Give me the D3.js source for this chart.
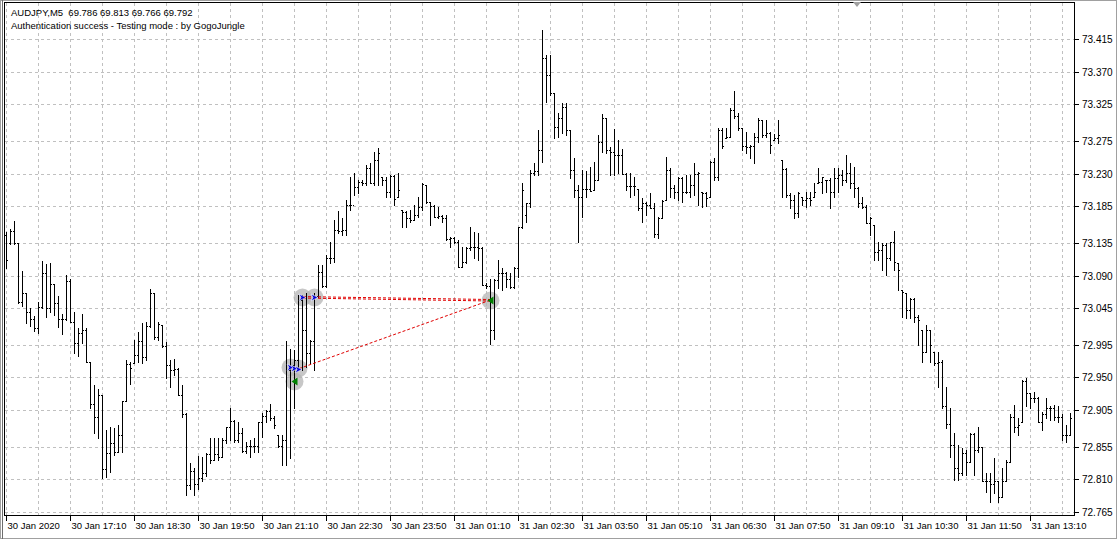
<!DOCTYPE html>
<html><head><meta charset="utf-8">
<script src="https://cdn.jsdelivr.net/npm/d3@7"></script>
<style>html,body{margin:0;padding:0;background:#fff;overflow:hidden}</style>
</head><body>
<svg id="c" width="1117" height="539"></svg>
<script>
const symbolTitle = "AUDJPY,M5  69.786 69.813 69.766 69.792";
const statusLine = "Authentication success - Testing mode : by GogoJungle";
const startTime = "2020-01-30T15:50:00";
const barMinutes = 5;

const opens = [
73.146,73.135,73.151,73.135,73.054,73.066,73.040,73.030,73.018,73.047,73.094,73.046,73.079,73.052,73.030,73.030,73.083,73.026,72.997,73.011,
73.015,72.971,72.914,72.896,72.926,72.824,72.846,72.860,72.848,72.871,72.918,72.969,72.970,72.981,73.000,72.978,73.021,73.066,73.006,73.022,
72.993,72.967,72.960,72.962,72.926,72.900,72.802,72.822,72.804,72.812,72.819,72.845,72.837,72.845,72.841,72.864,72.882,72.890,72.864,72.874,
72.849,72.856,72.856,72.856,72.888,72.897,72.904,72.894,72.871,72.856,72.864,72.960,72.967,72.974,73.057,73.015,72.984,73.000,73.062,73.095,
73.075,73.114,73.114,73.153,73.151,73.153,73.187,73.187,73.212,73.219,73.217,73.238,73.217,73.249,73.226,73.221,73.205,73.227,73.198,73.180,
73.177,73.169,73.166,73.173,73.184,73.214,73.191,73.186,73.171,73.172,73.169,73.140,73.142,73.136,73.102,73.109,73.128,73.129,73.129,73.128,
73.077,73.075,73.015,73.084,73.094,73.094,73.085,73.074,73.100,73.157,73.173,73.190,73.231,73.234,73.263,73.389,73.366,73.341,73.294,73.307,
73.322,73.290,73.235,73.208,73.198,73.209,73.209,73.208,73.221,73.274,73.307,73.263,73.260,73.256,73.256,73.230,73.213,73.213,73.209,73.183,
73.190,73.187,73.183,73.147,73.169,73.194,73.235,73.210,73.205,73.224,73.205,73.205,73.214,73.230,73.205,73.204,73.198,73.246,73.226,73.290,
73.279,73.280,73.318,73.309,73.293,73.268,73.267,73.268,73.280,73.304,73.283,73.286,73.276,73.279,73.249,73.236,73.201,73.194,73.176,73.198,
73.194,73.197,73.198,73.217,73.219,73.221,73.221,73.205,73.224,73.228,73.221,73.231,73.217,73.210,73.190,73.184,73.162,73.159,73.122,73.125,
73.132,73.114,73.136,73.107,73.070,73.066,73.043,73.058,73.033,73.015,72.985,73.015,72.985,72.970,72.971,72.910,72.886,72.857,72.826,72.819,
72.846,72.834,72.872,72.850,72.855,72.807,72.807,72.804,72.807,72.785,72.807,72.834,72.896,72.882,72.888,72.945,72.929,72.922,72.922,72.889,
72.899,72.908,72.908,72.896,72.896,72.871,72.871];

const highs = [
73.150,73.154,73.165,73.135,73.096,73.066,73.046,73.035,73.054,73.110,73.106,73.107,73.079,73.062,73.037,73.091,73.085,73.040,73.018,73.037,
73.018,72.971,72.940,72.934,72.926,72.878,72.882,72.881,72.885,72.918,72.974,72.971,73.002,73.013,73.025,73.026,73.072,73.066,73.026,73.022,
72.999,72.974,72.975,72.963,72.940,72.901,72.833,72.826,72.842,72.841,72.846,72.867,72.867,72.867,72.867,72.882,72.908,72.892,72.888,72.881,
72.861,72.864,72.867,72.889,72.901,72.905,72.914,72.897,72.871,72.871,73.000,72.989,72.988,73.063,73.063,73.066,73.002,73.066,73.105,73.105,
73.118,73.136,73.166,73.179,73.169,73.194,73.226,73.231,73.221,73.221,73.242,73.245,73.260,73.265,73.226,73.226,73.228,73.228,73.231,73.180,
73.179,73.180,73.187,73.198,73.217,73.214,73.191,73.187,73.184,73.173,73.173,73.143,73.143,73.139,73.129,73.129,73.157,73.150,73.149,73.129,
73.080,73.085,73.085,73.111,73.100,73.095,73.094,73.102,73.157,73.217,73.190,73.235,73.245,73.290,73.427,73.393,73.393,73.341,73.313,73.327,
73.327,73.290,73.252,73.214,73.235,73.234,73.239,73.246,73.283,73.312,73.307,73.267,73.291,73.276,73.264,73.231,73.231,73.226,73.209,73.197,
73.191,73.204,73.190,73.171,73.194,73.253,73.238,73.214,73.226,73.226,73.228,73.228,73.245,73.232,73.205,73.205,73.247,73.252,73.293,73.293,
73.293,73.320,73.344,73.313,73.293,73.287,73.269,73.286,73.307,73.304,73.304,73.287,73.285,73.304,73.249,73.238,73.204,73.201,73.205,73.198,
73.205,73.205,73.217,73.238,73.226,73.221,73.224,73.238,73.238,73.235,73.256,73.245,73.239,73.212,73.198,73.187,73.171,73.159,73.136,73.135,
73.135,73.136,73.151,73.107,73.070,73.066,73.059,73.059,73.036,73.015,73.022,73.015,72.985,72.985,72.974,72.937,72.908,72.874,72.857,72.853,
72.850,72.874,72.874,72.882,72.855,72.819,72.819,72.839,72.807,72.826,72.837,72.899,72.912,72.894,72.947,72.949,72.929,72.930,72.923,72.903,
72.922,72.910,72.912,72.910,72.899,72.885,72.901];

const lows = [
73.100,73.133,73.133,73.052,73.048,73.025,73.021,73.014,73.011,73.046,73.033,73.040,73.036,73.019,73.010,73.029,73.026,72.984,72.980,72.997,
72.971,72.908,72.874,72.867,72.812,72.813,72.820,72.844,72.848,72.848,72.918,72.941,72.970,72.971,72.970,72.974,73.019,73.003,73.002,72.992,
72.949,72.937,72.953,72.926,72.896,72.789,72.796,72.789,72.796,72.807,72.815,72.833,72.837,72.837,72.841,72.860,72.864,72.861,72.861,72.848,
72.846,72.841,72.848,72.848,72.868,72.889,72.892,72.881,72.855,72.830,72.829,72.839,72.908,72.960,72.960,72.964,72.970,72.960,73.061,73.074,
73.074,73.107,73.109,73.149,73.146,73.146,73.180,73.201,73.204,73.214,73.214,73.217,73.214,73.214,73.214,73.198,73.198,73.187,73.198,73.157,
73.157,73.164,73.166,73.171,73.180,73.190,73.159,73.171,73.169,73.164,73.139,73.129,73.135,73.102,73.102,73.107,73.125,73.114,73.111,73.077,
73.073,72.996,73.003,73.073,73.070,73.074,73.073,73.073,73.088,73.155,73.164,73.184,73.228,73.228,73.246,73.329,73.338,73.279,73.280,73.286,
73.283,73.224,73.198,73.136,73.171,73.198,73.206,73.208,73.221,73.260,73.258,73.228,73.228,73.231,73.230,73.208,73.198,73.201,73.180,73.164,
73.173,73.183,73.143,73.142,73.169,73.194,73.198,73.197,73.194,73.191,73.204,73.198,73.201,73.187,73.184,73.186,73.198,73.221,73.221,73.265,
73.279,73.280,73.307,73.290,73.263,73.258,73.252,73.245,73.274,73.280,73.280,73.258,73.276,73.272,73.198,73.198,73.183,73.169,73.171,73.187,
73.184,73.187,73.198,73.217,73.204,73.205,73.183,73.198,73.205,73.214,73.219,73.210,73.198,73.184,73.183,73.162,73.146,73.111,73.111,73.098,
73.091,73.111,73.098,73.070,73.033,73.032,73.032,73.026,72.995,72.971,72.985,72.971,72.967,72.937,72.908,72.881,72.841,72.809,72.809,72.816,
72.816,72.834,72.816,72.848,72.807,72.793,72.779,72.791,72.779,72.785,72.807,72.834,72.875,72.871,72.888,72.910,72.908,72.916,72.888,72.878,
72.894,72.892,72.892,72.889,72.864,72.861,72.871];

const closes = [
73.111,73.151,73.135,73.054,73.066,73.040,73.030,73.018,73.047,73.094,73.046,73.079,73.052,73.030,73.030,73.083,73.026,72.997,73.011,73.015,
72.971,72.914,72.896,72.926,72.824,72.846,72.860,72.848,72.871,72.918,72.969,72.963,72.981,73.000,72.978,73.021,73.066,73.006,73.024,72.993,
72.967,72.960,72.962,72.926,72.900,72.802,72.822,72.804,72.812,72.819,72.845,72.837,72.845,72.841,72.864,72.882,72.890,72.864,72.874,72.849,
72.856,72.856,72.856,72.888,72.897,72.904,72.894,72.885,72.856,72.864,72.960,72.967,72.974,73.057,73.015,72.984,73.000,73.062,73.095,73.075,
73.114,73.114,73.153,73.151,73.153,73.187,73.187,73.212,73.219,73.217,73.238,73.217,73.249,73.258,73.221,73.205,73.227,73.195,73.208,73.177,
73.169,73.166,73.173,73.184,73.216,73.191,73.186,73.171,73.172,73.169,73.140,73.142,73.136,73.102,73.109,73.128,73.129,73.129,73.128,73.077,
73.075,73.015,73.084,73.094,73.094,73.085,73.074,73.100,73.157,73.208,73.190,73.231,73.234,73.263,73.389,73.366,73.341,73.294,73.307,73.322,
73.290,73.235,73.208,73.198,73.209,73.209,73.206,73.221,73.274,73.307,73.263,73.260,73.256,73.256,73.230,73.213,73.213,73.213,73.183,73.190,
73.187,73.183,73.147,73.169,73.192,73.235,73.210,73.205,73.224,73.205,73.205,73.214,73.230,73.231,73.204,73.197,73.246,73.226,73.290,73.268,
73.280,73.318,73.309,73.293,73.268,73.267,73.268,73.280,73.304,73.283,73.286,73.269,73.279,73.283,73.236,73.201,73.194,73.176,73.204,73.194,
73.197,73.194,73.205,73.219,73.226,73.221,73.205,73.224,73.228,73.221,73.231,73.217,73.210,73.190,73.184,73.162,73.169,73.122,73.125,73.132,
73.114,73.136,73.109,73.098,73.068,73.043,73.058,73.033,73.029,72.985,73.015,72.995,72.970,72.971,72.910,72.886,72.857,72.826,72.819,72.846,
72.834,72.872,72.850,72.855,72.807,72.807,72.804,72.807,72.785,72.807,72.834,72.896,72.882,72.885,72.945,72.929,72.922,72.922,72.889,72.899,
72.908,72.908,72.896,72.896,72.871,72.871,72.894];

const priceTicks = [73.415,73.370,73.325,73.275,73.230,73.185,73.135,73.090,73.045,72.995,72.950,72.905,72.855,72.810,72.765];
const timeTickLabels = ["30 Jan 2020","30 Jan 17:10","30 Jan 18:30","30 Jan 19:50","30 Jan 21:10","30 Jan 22:30","30 Jan 23:50",
  "31 Jan 01:10","31 Jan 02:30","31 Jan 03:50","31 Jan 05:10","31 Jan 06:30","31 Jan 07:50","31 Jan 09:10","31 Jan 10:30","31 Jan 11:50","31 Jan 13:10"];
const timeTickEvery = 16;   // bars between time labels
const gridEvery = 8;        // bars between vertical grid lines

// trade markers: bar index + price
const buyArrows = [{bar:71, price:72.964},{bar:72, price:72.963},{bar:73, price:72.962},{bar:74, price:73.060},{bar:77, price:73.060}];
const closeArrows = [{bar:72, price:72.945},{bar:121, price:73.056}];
const markerCircles = [{bar:74, price:73.060},{bar:77, price:73.060},{bar:71, price:72.964},{bar:73, price:72.963},{bar:72, price:72.945},{bar:121, price:73.056}];
const tradeLines = [
  {from:{bar:74, price:73.061}, to:{bar:121, price:73.057}},
  {from:{bar:74, price:73.059}, to:{bar:121, price:73.055}},
  {from:{bar:73, price:72.962}, to:{bar:121, price:73.056}}
];

const W = 1117, H = 539;
const plot = {left:4.5, right:1074.5, top:2.5, bottom:515.5};
const svg = d3.select("#c");
const FONT = "'Liberation Sans', Arial, sans-serif";

const t0 = new Date(startTime);
const times = closes.map((_, i) => new Date(t0.getTime() + i * barMinutes * 60000));
const bars = times.map((t, i) => ({t, o:opens[i], h:highs[i], l:lows[i], c:closes[i]}));

const x = d3.scaleTime().domain([times[0], times[times.length-1]]).range([6, 6 + 4*(times.length-1)]);
const y = d3.scaleLinear().domain([72.765, 73.415]).range([512, 39]);
const X = i => Math.round(x(times[i]));
const Y = p => Math.round(y(p));

svg.append("rect").attr("width", W).attr("height", H).attr("fill", "#fff");
// window borders
svg.append("rect").attr("x",0.5).attr("y",0.5).attr("width",W-1).attr("height",H-1).attr("fill","none").attr("stroke","#a0a0a0");
svg.append("line").attr("x1",2.5).attr("x2",2.5).attr("y1",0).attr("y2",H).attr("stroke","#6d6d6d");

const grid = svg.append("g").attr("stroke","#c0c0c0").attr("stroke-dasharray","3,3").attr("shape-rendering","crispEdges");
priceTicks.forEach(p => {
  grid.append("line").attr("x1", plot.left).attr("x2", plot.right).attr("y1", Y(p)+0.5).attr("y2", Y(p)+0.5);
});
for (let i = 0; i < times.length; i += gridEvery) {
  grid.append("line").attr("x1", X(i)+0.5).attr("x2", X(i)+0.5).attr("y1", plot.top).attr("y2", plot.bottom);
}

// marker circles (behind bars)
const mk = svg.append("g");
markerCircles.forEach(m => {
  mk.append("circle").attr("cx", X(m.bar)+0.5).attr("cy", Y(m.price)+0.5).attr("r", 9)
    .attr("fill", "#b4b4b4").attr("opacity", 0.75);
});

// OHLC bars
const gb = svg.append("g").attr("fill","#000").attr("shape-rendering","crispEdges");
bars.forEach((b, i) => {
  const xi = X(i);
  const yh = Y(b.h), yl = Y(b.l);
  gb.append("rect").attr("x", xi).attr("y", yh).attr("width", 1).attr("height", Math.max(1, yl - yh + 1));
  gb.append("rect").attr("x", xi-1).attr("y", Y(b.o)).attr("width", 1).attr("height", 1);
  gb.append("rect").attr("x", xi+1).attr("y", Y(b.c)).attr("width", 1).attr("height", 1);
});

// trade lines
const tl = svg.append("g").attr("stroke","#e00000").attr("stroke-width",1).attr("stroke-dasharray","3,2").attr("fill","none");
tradeLines.forEach(l => {
  tl.append("line").attr("x1", X(l.from.bar)+1).attr("y1", y(l.from.price)).attr("x2", X(l.to.bar)).attr("y2", y(l.to.price));
});

// arrows
buyArrows.forEach(a => {
  const cx = X(a.bar)+0.5, cy = Y(a.price)+0.5;
  svg.append("path").attr("d", `M${cx-3.5},${cy-3.5} L${cx+3.5},${cy} L${cx-3.5},${cy+3.5} L${cx-1.5},${cy} Z`)
    .attr("fill","#0000d8").attr("stroke","#fff").attr("stroke-width",0.6);
});
closeArrows.forEach(a => {
  const cx = X(a.bar)+0.5, cy = Y(a.price)+0.5;
  svg.append("path").attr("d", `M${cx+3},${cy-4} L${cx-3},${cy} L${cx+3},${cy+4} Z`).attr("fill","#008000");
});

// frame
svg.append("rect").attr("x", plot.left).attr("y", plot.top).attr("width", plot.right-plot.left).attr("height", plot.bottom-plot.top)
  .attr("fill","none").attr("stroke","#000").attr("shape-rendering","crispEdges");

// price axis
const pa = svg.append("g");
priceTicks.forEach(p => {
  const yy = Y(p)+0.5;
  pa.append("line").attr("x1", plot.right).attr("x2", plot.right+4).attr("y1", yy).attr("y2", yy).attr("stroke","#000").attr("shape-rendering","crispEdges");
  pa.append("text").attr("x", 1082).attr("y", yy+3.5).attr("font-family", FONT).attr("font-size", 10).attr("fill","#000").text(p.toFixed(3));
});

// time axis
const ta = svg.append("g");
timeTickLabels.forEach((lab, k) => {
  const xi = X(k*timeTickEvery)+0.5;
  ta.append("line").attr("x1", xi).attr("x2", xi).attr("y1", plot.bottom).attr("y2", plot.bottom+5).attr("stroke","#000").attr("shape-rendering","crispEdges");
  ta.append("text").attr("x", xi+1).attr("y", 529).attr("font-family", FONT).attr("font-size", 9.5).attr("fill","#000").text(lab);
});

// header texts
svg.append("text").attr("x", 11).attr("y", 16).attr("font-family", FONT).attr("font-size", 9.5).attr("fill","#000").style("white-space","pre").text(symbolTitle);
svg.append("text").attr("x", 11).attr("y", 29).attr("font-family", FONT).attr("font-size", 9.5).attr("fill","#000").text(statusLine);

// chart shift marker
svg.append("path").attr("d", "M853,2 L861,2 L857,7 Z").attr("fill","#a0a0a0");
</script>
</body></html>
